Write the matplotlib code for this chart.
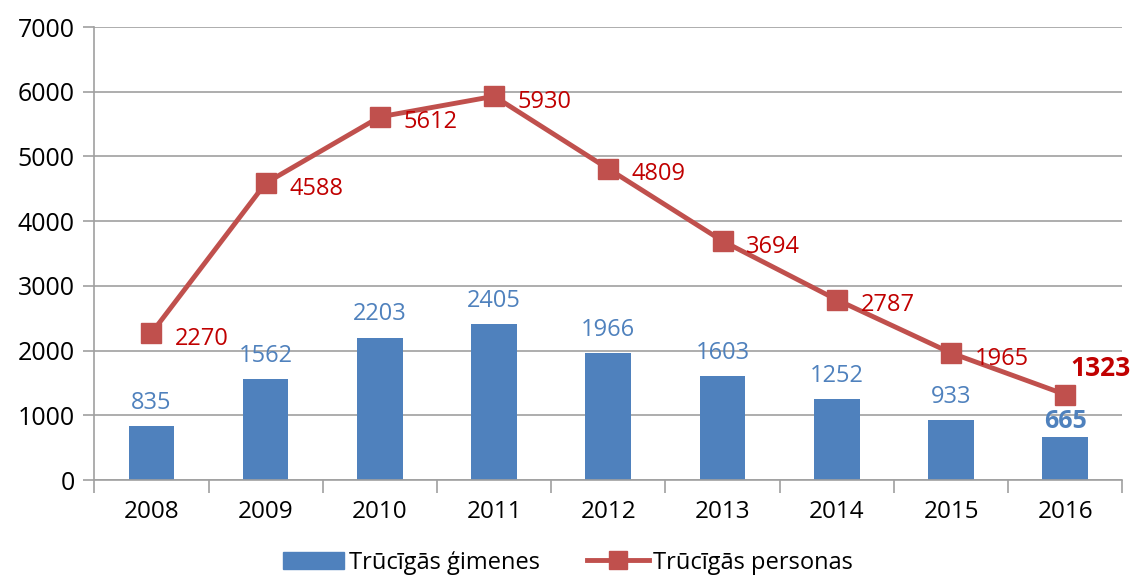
import matplotlib.pyplot as plt
from matplotlib.lines import Line2D
from matplotlib.patches import Patch

# Dati
gadi = ['2008', '2009', '2010', '2011', '2012', '2013', '2014', '2015', '2016']
gimenes = [835, 1562, 2203, 2405, 1966, 1603, 1252, 933, 665]
personas = [2270, 4588, 5612, 5930, 4809, 3694, 2787, 1965, 1323]

zils = '#4F81BD'
sarkans = '#C0504D'
plt.rcParams['font.family'] = ['Open Sans', 'DejaVu Sans']

fig = plt.figure(figsize=(11.36, 5.87), dpi=100)
ax = fig.add_axes([0.083, 0.182, 0.905, 0.772])

x = list(range(len(gadi)))
ax.bar(x, gimenes, width=0.4, color=zils, zorder=2)
ax.plot(x, personas, color=sarkans, lw=3.5, marker='s', markersize=15, zorder=3)

# Datu etiķetes
for i, v in enumerate(gimenes):
    pedejais = i == len(gimenes) - 1
    ax.annotate(str(v), (i, v), xytext=(0, 2 if pedejais else 8),
                textcoords='offset points', ha='center', va='bottom', color=zils,
                fontsize=18 if pedejais else 17,
                fontweight='bold' if pedejais else 'normal', zorder=4)
for i, v in enumerate(personas):
    if i == len(personas) - 1:
        ax.annotate(str(v), (i, v), xytext=(4, 9), textcoords='offset points',
                    ha='left', va='bottom', color='#C00000', fontsize=19,
                    fontweight='bold', zorder=4)
    else:
        ax.annotate(str(v), (i, v), xytext=(17, -4), textcoords='offset points',
                    ha='left', va='center', color='#C00000', fontsize=17, zorder=4)

ax.set_xlim(-0.5, len(gadi) - 0.5)
ax.set_ylim(0, 7000)
ax.set_yticks(range(0, 7001, 1000))
ax.set_xticks(x)
ax.set_xticklabels(gadi)
ax.set_xticks([i - 0.5 for i in range(len(gadi) + 1)], minor=True)
ax.tick_params(axis='x', which='major', length=0, pad=14, labelsize=17.5)
ax.tick_params(axis='x', which='minor', length=9, color='#A0A0A0', width=1.2)
ax.tick_params(axis='y', length=8, color='#A0A0A0', width=1.2, labelsize=18, pad=6)
ax.grid(axis='y', color='#A0A0A0', lw=1.2, zorder=0)
for s in ['top', 'right']:
    ax.spines[s].set_visible(False)
ax.spines['left'].set_color('#A0A0A0')
ax.spines['bottom'].set_color('#A0A0A0')
ax.spines['left'].set_linewidth(1.2)
ax.spines['bottom'].set_linewidth(1.2)

handles = [Patch(color=zils),
           Line2D([], [], color=sarkans, lw=3.5, marker='s', markersize=13)]
fig.legend(handles, ['Trūcīgās ģimenes', 'Trūcīgās personas'], loc='lower center',
           bbox_to_anchor=(0.5, -0.015), ncol=2, frameon=False, fontsize=17,
           handlelength=2.6, handletextpad=0.2, columnspacing=2.0)

fig.savefig('out.png', dpi=100)
